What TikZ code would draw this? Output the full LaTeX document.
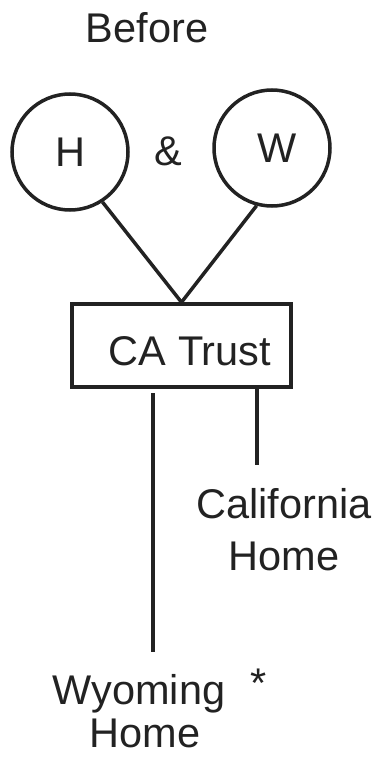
\documentclass[tikz,border=0pt]{standalone}
\usepackage{fontspec}
\setmainfont{Liberation Sans}
\usetikzlibrary{positioning}
\definecolor{ink}{HTML}{222222}
\tikzset{
  person/.style={circle,draw=ink,line width=3.5pt,minimum size=116pt,inner sep=0pt},
  trustblk/.style={draw=ink,rectangle,line width=3.5pt,minimum width=219pt,minimum height=83pt,inner sep=0pt},
  lbl/.style={font=\fontsize{41.5}{49}\selectfont,text=ink,inner sep=0pt,anchor=base},
  ln/.style={draw=ink,line width=3.5pt}
}
\begin{document}
\begin{tikzpicture}[x=1pt,y=-1pt]
  \useasboundingbox (0,0) rectangle (381,757);

  \node[lbl] (before) at (147,43) {Before};

  \node[person] (H) at (70,152) {};
  \node[person] (W) at (272,148) {};
  \node[lbl] (Hlbl) at (70,166) {H};
  \node[lbl] (Wlbl) at (277,162) {W};
  \node[lbl] (amp) at (168,165) {\&};

  \node[trustblk] (trust) at (181.5,345.5) {};
  \node[lbl] (trustlbl) at (190,365) {CA Trust};

  \node[lbl] (cal) at (284,518) {California};
  \node[lbl] (calhome) at (284,570) {Home};
  \node[lbl] (wyo) at (139,704) {Wyoming};
  \node[lbl] (star) at (259,697) {*};
  \node[lbl] (wyohome) at (145,747) {Home};

  \coordinate (wyotop) at (153,393);
  \coordinate (wyoend) at (153,652);
  \coordinate (caltop) at (257,387);
  \coordinate (calend) at (257,465);

  \draw[ln] (H.-57) -- (trust.north);
  \draw[ln] (W.-105) -- (trust.north);
  \draw[ln] (wyotop) -- (wyoend);
  \draw[ln] (caltop) -- (calend);
\end{tikzpicture}
\end{document}
